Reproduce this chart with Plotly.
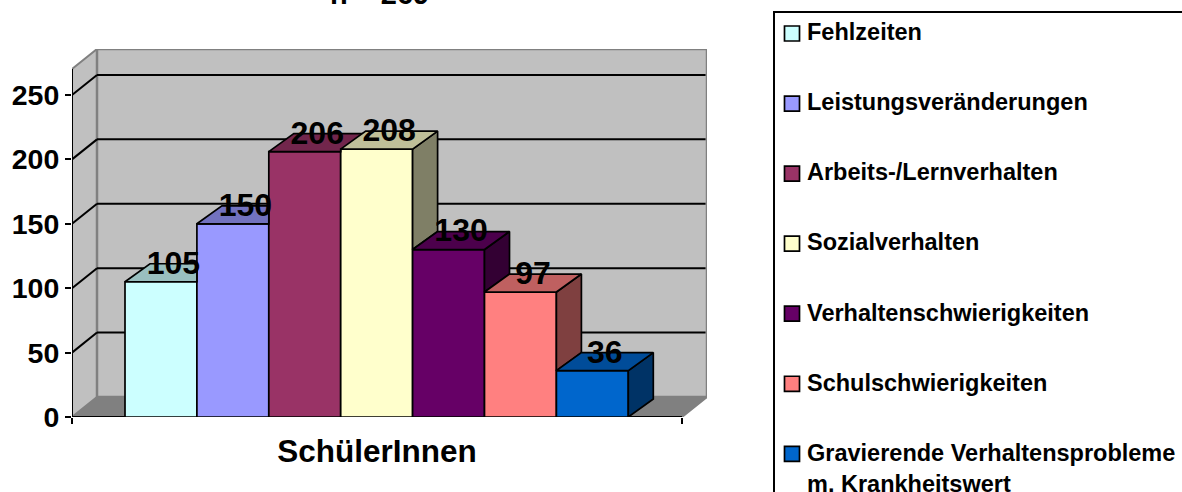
import plotly.graph_objects as go

# --- data -------------------------------------------------------------
categories = ["Fehlzeiten", "Leistungsveränderungen", "Arbeits-/Lernverhalten",
              "Sozialverhalten", "Verhaltenschwierigkeiten", "Schulschwierigkeiten",
              "Gravierende Verhaltensprobleme<br>m. Krankheitswert"]
values = [105, 150, 206, 208, 130, 97, 36]
colors = ["#CCFFFF", "#9999FF", "#993366", "#FFFFCC", "#660066", "#FF8080", "#0066CC"]
y_ticks = [0, 50, 100, 150, 200, 250]
x_label = "SchülerInnen"
title_text = "n = 269"

# --- geometry in axis units (1 x unit = one bar width) ----------------
FONT = "Liberation Sans"
W, H = 1182, 492
ML, MR, MT, MB = 72, 475, 49, 75.3
PX_X = 71.9
PX_Y = 1.287
X0 = -53 / PX_X
X1 = X0 + (W - ML - MR) / PX_X
Y1 = (H - MT - MB) / PX_Y
WALL_DX = 25 / PX_X
WALL_DY = 20 / PX_Y
BAR_DX = 25 / PX_X
BAR_DY = 18 / PX_Y
FRONT_R = X1 - WALL_DX
FRONT_T = Y1 - WALL_DY
EDGE = 1.7


def px(x):
    return (x - ML) / (W - ML - MR)


def py(y):
    return (H - MB - y) / (H - MT - MB)


def shade(hex_color, f):
    r, g, b = (int(hex_color[i:i + 2], 16) for i in (1, 3, 5))
    return f"rgb({int(r * f)},{int(g * f)},{int(b * f)})"


def poly(pts, fill, line="black", width=1.5, layer="below"):
    path = "M" + "L".join(f"{x},{y}" for x, y in pts) + "Z"
    return dict(type="path", path=path, xref="x", yref="y", fillcolor=fill,
                line=dict(color=line, width=width), layer=layer)


def seg(x0, y0, x1, y1, color="black", width=2):
    return dict(type="line", xref="x", yref="y", x0=x0, y0=y0, x1=x1, y1=y1,
                line=dict(color=color, width=width), layer="below")


shapes = [
    poly([(X0, 0), (X0 + WALL_DX, WALL_DY), (X1, WALL_DY), (FRONT_R, 0)], "#808080", "#808080", 2),
    poly([(X0, 0), (X0, FRONT_T), (X0 + WALL_DX, Y1), (X0 + WALL_DX, WALL_DY)], "#C0C0C0", "#808080", 2),
    poly([(X0 + WALL_DX, WALL_DY), (X0 + WALL_DX, Y1), (X1, Y1), (X1, WALL_DY)], "#C0C0C0", "#808080", 2.5),
]
for t in y_ticks[1:]:
    shapes.append(seg(X0, t, X0 + WALL_DX, t + WALL_DY))
    shapes.append(seg(X0 + WALL_DX, t + WALL_DY, X1 - 0.02, t + WALL_DY))
shapes.append(seg(X0, 0, X0, FRONT_T))
shapes.append(seg(X0, 0, FRONT_R, 0))
# legend frame runs off the canvas, as in the reference
shapes.append(dict(type="rect", xref="paper", yref="paper",
                   x0=px(774), x1=px(1300), y0=py(600), y1=py(12),
                   line=dict(color="black", width=2), layer="above"))

annotations = [dict(text=f"<b>{title_text}</b>", xref="paper", yref="paper",
                    x=px(379), y=py(12), xanchor="center", yanchor="bottom", showarrow=False,
                    font=dict(family=FONT, size=29, color="black"))]

LEG_TOP, LEG_STEP, LEG_SIZE = 26, 70, 15
for i, (name, c) in enumerate(zip(categories, colors)):
    top = LEG_TOP + i * LEG_STEP
    shapes.append(dict(type="rect", xref="paper", yref="paper",
                       x0=px(784.5), x1=px(784.5 + LEG_SIZE), y0=py(top + LEG_SIZE), y1=py(top),
                       fillcolor=c, line=dict(color="black", width=EDGE), layer="above"))
    lines = name.count("<br>") + 1
    annotations.append(dict(text=f"<b>{name}</b>", xref="paper", yref="paper",
                            x=px(806), y=py(top + LEG_SIZE / 2 - 15.2), xanchor="left", yanchor="top",
                            align="left", showarrow=False, borderpad=0,
                            font=dict(family=FONT, size=23.5, color="black")))

fig = go.Figure()

for i, (name, v, c) in enumerate(zip(categories, values, colors)):
    fig.add_trace(go.Bar(x=[i + 0.5], y=[v], width=[1], name=name.replace("<br>", " "),
                         marker=dict(color=c, line=dict(color="black", width=EDGE)),
                         hoverinfo="name+y", showlegend=False))

for i, (v, c) in enumerate(zip(values, colors)):
    nxt = values[i + 1] if i + 1 < len(values) else 0
    xl, xr = i, i + 1
    # side face: only the part above the neighbouring bar
    if nxt < v:
        xs = [xr, xr + BAR_DX, xr + BAR_DX, xr, xr]
        ys = [v, v + BAR_DY, nxt + BAR_DY, nxt, v]
        fig.add_trace(go.Scatter(x=xs, y=ys, mode="lines", fill="toself", fillcolor=shade(c, 0.5),
                                 line=dict(color="black", width=EDGE), showlegend=False, hoverinfo="skip"))
    # top face: clipped by the neighbouring bar where that one is taller
    if nxt <= v:
        xs = [xl, xr, xr + BAR_DX, xl + BAR_DX, xl]
        ys = [v, v, v + BAR_DY, v + BAR_DY, v]
    elif nxt >= v + BAR_DY:
        xs = [xl, xr, xr, xl + BAR_DX, xl]
        ys = [v, v, v + BAR_DY, v + BAR_DY, v]
    else:
        xm = xr + (nxt - v) / BAR_DY * BAR_DX
        xs = [xl, xr, xr, xm, xr + BAR_DX, xl + BAR_DX, xl]
        ys = [v, v, nxt, nxt, v + BAR_DY, v + BAR_DY, v]
    fig.add_trace(go.Scatter(x=xs, y=ys, mode="lines", fill="toself", fillcolor=shade(c, 0.75),
                             line=dict(color="black", width=EDGE), showlegend=False, hoverinfo="skip"))

fig.add_trace(go.Scatter(
    x=[i + 0.5 + BAR_DX / 2 for i in range(len(values))],
    y=[v + 12.5 for v in values],
    mode="text", text=[str(v) for v in values], textposition="middle center",
    textfont=dict(family=FONT, size=32, color="black", weight="bold"),
    showlegend=False, hoverinfo="skip"))

fig.update_layout(
    width=W, height=H, autosize=False, showlegend=False,
    margin=dict(l=ML, r=MR, t=MT, b=MB, pad=0),
    paper_bgcolor="white", plot_bgcolor="white",
    barmode="overlay", shapes=shapes, annotations=annotations,
    font=dict(family=FONT, color="black"),
    xaxis=dict(range=[X0, X1], showgrid=False, zeroline=False, showline=False,
               tickmode="array", tickvals=[(X0 + FRONT_R) / 2], ticktext=[f"<b>{x_label}</b>"],
               ticks="", ticklabelstandoff=12, tickfont=dict(family=FONT, size=31.5, color="black"),
               minor=dict(tickmode="array", tickvals=[X0, FRONT_R], ticks="outside", ticklen=6,
                          tickwidth=1.5, tickcolor="black", showgrid=False)),
    yaxis=dict(range=[0, Y1], showgrid=False, zeroline=False, showline=False,
               tickmode="array", tickvals=y_ticks, ticks="outside", ticklen=6, tickwidth=2,
               tickcolor="black", tickfont=dict(family=FONT, size=28.5, color="black", weight="bold")),
)

fig.write_html("out.html", config=dict(displayModeBar=False),
               post_script="document.body.style.margin='0';")
